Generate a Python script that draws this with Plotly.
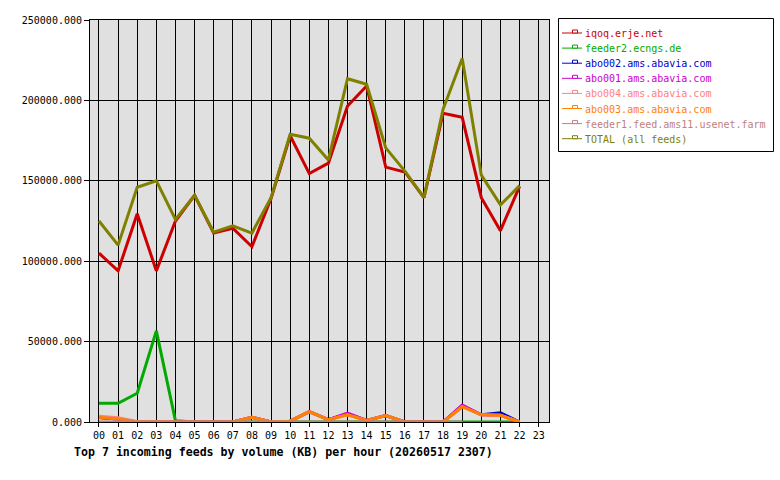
import plotly.graph_objects as go

hours = ["%02d" % h for h in range(23)]
tick_labels = ["%02d" % h for h in range(24)]

iqoq = [105000, 94000, 129500, 94000, 125000, 141000, 117500, 120500, 109000, 139000,
        178000, 154500, 161000, 196500, 209000, 158500, 155500, 139500, 192000, 189500,
        139500, 119000, 146500]
feeder2 = [11600, 11600, 17900, 56700, 800, 0, 0, 0, 0, 0, 0, 0, 0, 0, 0, 0, 0, 0, 0, 0, 0, 0, 0]
abo002 = [2800, 1800, 0, 0, 0, 0, 0, 0, 3000, 0, 500, 6500, 1500, 5000, 1000, 4000, 0, 0, 0,
          10000, 4500, 5800, 0]
abo001 = [2800, 1800, 0, 0, 0, 0, 0, 0, 3000, 0, 500, 6500, 1500, 5500, 1000, 4000, 0, 0, 0,
          10500, 4500, 4200, 0]
abo004 = [3600, 2600, 300, 0, 0, 0, 0, 0, 3000, 0, 500, 6500, 1500, 4500, 1000, 4000, 0, 0, 0,
          9500, 4500, 4200, 0]
abo003 = [2800, 1800, 0, 0, 0, 0, 0, 0, 3000, 0, 500, 6500, 1500, 4500, 1000, 4000, 0, 0, 0,
          9500, 4500, 4200, 0]
feeder1 = [0, 0, 0, 0, 0, 0, 0, 0, 0, 0, 0, 0, 0, 0, 0, 0, 0, 0, 0, 0, None, None, None]
total = [125000, 110000, 146000, 150000, 126000, 141000, 118000, 122000, 117500, 139500,
         179000, 176500, 163000, 213500, 210000, 170500, 156000, 139500, 194500, 226000,
         153500, 135000, 147000]

series_names = ["iqoq.erje.net", "feeder2.ecngs.de", "abo002.ams.abavia.com",
                "abo001.ams.abavia.com", "abo004.ams.abavia.com", "abo003.ams.abavia.com",
                "feeder1.feed.ams11.usenet.farm", "TOTAL (all feeds)"]
series_values = [iqoq, feeder2, abo002, abo001, abo004, abo003, feeder1, total]
series_colors = ["#cc0000", "#00aa00", "#0000cc", "#cc00cc", "#ff8080", "#ff8000",
                 "#c08080", "#808000"]

FONT = "DejaVu Sans Mono"
W, H = 780, 480
L, R, T, B = 90, 231, 20, 58
PW, PH = W - L - R, H - T - B


def px(x):
    return (x - L) / PW


def py(y):
    return (H - B - y) / PH


fig = go.Figure()
for name, vals, color in zip(series_names, series_values, series_colors):
    fig.add_trace(go.Scatter(x=hours, y=vals, mode="lines", name=name, showlegend=False,
                             line=dict(color=color, width=3), connectgaps=False))

# hand-built legend box (matches the compact original legend)
shapes = [dict(type="rect", xref="paper", yref="paper",
               x0=px(558.5), x1=px(773.5), y0=py(151.5), y1=py(18.5),
               line=dict(color="black", width=1), fillcolor="white", layer="above")]
annotations = []
for i, (name, color) in enumerate(zip(series_names, series_colors)):
    yc = 33 + i * 15.1
    shapes.append(dict(type="line", xref="paper", yref="paper",
                       x0=px(562), x1=px(582), y0=py(yc), y1=py(yc),
                       line=dict(color=color, width=1), layer="above"))
    shapes.append(dict(type="rect", xref="paper", yref="paper",
                       x0=px(572.5), x1=px(577.5), y0=py(yc), y1=py(yc - 3),
                       line=dict(color=color, width=1), fillcolor="white", layer="above"))
    annotations.append(dict(text=name, xref="paper", yref="paper", x=px(583), y=py(yc + 0.5),
                            xanchor="left", yanchor="middle", showarrow=False,
                            font=dict(family=FONT, size=10, color=color)))

annotations.append(dict(text="<b>Top 7 incoming feeds by volume (KB) per hour (20260517 2307)</b>",
                        xref="paper", yref="paper", x=px(72), y=py(452),
                        xanchor="left", yanchor="middle", showarrow=False,
                        font=dict(family=FONT, size=11.6, color="black")))

fig.update_layout(
    width=W, height=H,
    margin=dict(l=L, r=R, t=T, b=B),
    paper_bgcolor="white", plot_bgcolor="#e0e0e0",
    font=dict(family=FONT, size=10, color="black"),
    showlegend=False,
    shapes=shapes,
    annotations=annotations,
)
fig.update_xaxes(type="category", categoryorder="array", categoryarray=tick_labels,
                 range=[-0.47, 23.54], tickvals=tick_labels, ticktext=tick_labels,
                 showgrid=True, gridcolor="black", gridwidth=1,
                 showline=True, linecolor="black", linewidth=1, mirror=True,
                 ticks="outside", ticklen=4, tickcolor="black",
                 tickfont=dict(family=FONT, size=10), zeroline=False)
fig.update_yaxes(range=[0, 250000], dtick=50000, tick0=0, tickformat=".3f",
                 showgrid=True, gridcolor="black", gridwidth=1,
                 showline=True, linecolor="black", linewidth=1, mirror=True,
                 ticks="outside", ticklen=5, tickcolor="black",
                 tickfont=dict(family=FONT, size=10), zeroline=False)

fig.write_html("out.html")
